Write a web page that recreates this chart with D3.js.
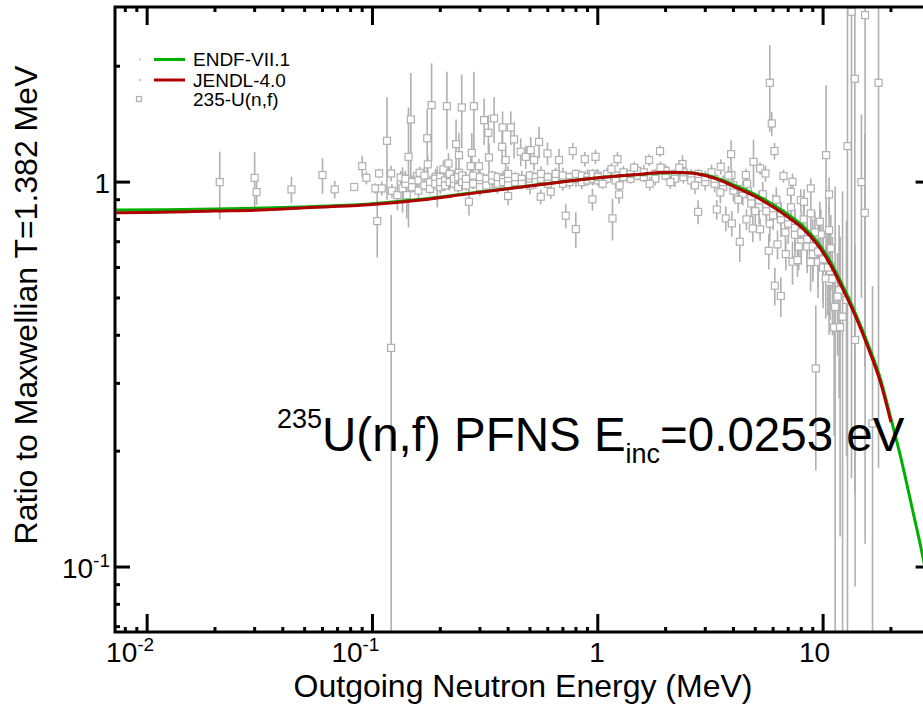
<!DOCTYPE html>
<html><head><meta charset="utf-8">
<script src="https://cdn.jsdelivr.net/npm/d3@7"></script>
<style>
body{margin:0;background:#fff;overflow:hidden}
text{font-family:"Liberation Sans",Arial,Helvetica,sans-serif;fill:#000}
</style>
</head><body>
<svg id="chart" width="923" height="709"></svg>
<script>
// ---------------- data ----------------
const xMajorTicks = [0.01, 0.1, 1, 10];
const xTickLabels = [["10","-2"],["10","-1"],["1",""],["10",""]];
const yMajorTicks = [0.1, 1];
const yTickLabels = [["10","-1"],["1",""]];

// ENDF/B-VII.1 ratio to Maxwellian (green)
const endfE = [0.0073,0.012,0.02,0.032,0.048,0.1,0.164,0.265,0.52,1.03,1.6,2.04,2.5,3.0,3.5,4.0,5.0,6.0,7.0,8.0,9.5,10.5,12.3,14.0,15.8,18.0,20.0,22.0,25.0,28.0,30.0];
const endfR = [0.846,0.847,0.851,0.856,0.862,0.879,0.902,0.934,0.981,1.028,1.048,1.058,1.057,1.043,1.016,0.984,0.928,0.873,0.823,0.776,0.695,0.638,0.534,0.452,0.38,0.307,0.243,0.195,0.14,0.103,0.082];

// JENDL-4.0 ratio to Maxwellian (red)
const jendlE = [0.0073,0.01,0.02,0.032,0.048,0.1,0.164,0.265,0.52,1.03,1.6,2.04,2.5,3.0,3.5,4.0,5.0,6.0,7.0,8.0,9.5,10.5,12.3,14.0,15.8,18.0,20.0];
const jendlR = [0.833,0.834,0.841,0.846,0.856,0.874,0.898,0.932,0.980,1.028,1.05,1.06,1.058,1.04,1.01,0.975,0.918,0.861,0.81,0.764,0.685,0.627,0.524,0.445,0.373,0.301,0.238];

// 235-U(n,f) experimental points: [E (MeV), ratio, abs. uncertainty]
const expScatter = [
 [0.021,1.00,0.20],[0.030,1.026,0.17],[0.0306,0.942,0.07],[0.0437,0.957,0.075],[0.060,1.043,0.11],
 [0.068,0.957,0.05],[0.083,0.971,0.02],[0.090,1.10,0.07],[0.094,1.026,0.04],[0.105,0.792,0.155],
 [0.116,1.28,0.38],[0.121,0.371,0.45],[0.103,0.963,0.03],[0.110,0.963,0.04],[0.107,1.053,0.03],
 [0.121,1.053,0.05],[0.122,0.949,0.04],[0.129,0.925,0.08],[0.1335,1.028,0.04],[0.136,0.963,0.13],
 [0.142,0.925,0.12],[0.1445,1.163,0.40],[0.148,1.455,0.465],[0.152,0.992,0.05],[0.158,1.037,0.03],
 [0.162,1.057,0.04],[0.175,1.30,0.25],[0.176,1.112,0.06],[0.183,1.585,0.45],[0.191,1.032,0.05],
 [0.194,0.98,0.12],[0.2065,1.079,0.06],[0.214,1.575,0.36],[0.2175,1.118,0.07],[0.223,1.008,0.04],
 [0.235,1.255,0.2],[0.242,1.175,0.17],[0.2415,1.057,0.03],[0.249,1.563,0.34],[0.264,1.012,0.03],
 [0.268,0.889,0.07],[0.273,1.10,0.06],[0.276,1.191,0.15],[0.282,1.575,0.36],[0.297,1.10,0.05],
 [0.313,1.449,0.2],[0.327,1.343,0.15],[0.329,1.159,0.1],[0.3465,1.464,0.2],[0.359,0.972,0.04],
 [0.378,1.387,0.14],[0.376,1.235,0.12],[0.39,1.141,0.1],[0.40,0.92,0.05],[0.411,1.387,0.14],
 [0.425,1.291,0.14],[0.455,1.199,0.1],[0.479,1.163,0.08],[0.504,1.211,0.1],[0.5215,1.141,0.07],
 [0.549,1.272,0.12],[0.5585,0.916,0.04],[0.598,1.187,0.08],[0.6185,0.944,0.04],[0.673,1.141,0.08],
 [0.721,0.818,0.06],[0.7745,1.204,0.06],[0.799,0.755,0.08],[0.876,1.147,0.05],[0.947,0.902,0.06],
 [0.977,1.163,0.05],[1.162,0.805,0.1],[1.223,1.147,0.05],[1.243,0.929,0.05],[1.689,1.141,0.04],
 [1.89,1.204,0.04],[2.376,1.114,0.06],[2.787,0.837,0.06],[3.375,0.849,0.05],[3.70,0.805,0.06],
 [3.934,0.781,0.06],[4.268,0.70,0.08],[4.57,0.80,0.05],[4.875,0.758,0.06],[5.253,0.754,0.05],
 [5.741,0.663,0.07],[6.276,0.689,0.06],[6.105,0.538,0.06],[6.49,0.506,0.06],[6.83,0.65,0.06],
 [7.314,0.621,0.08],[7.70,0.627,0.06],[5.80,1.811,0.46],[5.92,1.42,0.1],[6.085,1.204,0.06],
 [3.906,1.182,0.1],[4.91,1.129,0.16],[3.515,1.096,0.05],[5.253,1.085,0.04],[4.54,1.043,0.04],
 [3.92,1.043,0.04],[5.55,1.053,0.05],[6.673,1.037,0.04],[7.314,1.002,0.05],[8.82,0.963,0.06],
 [10.31,1.175,0.61],[12.83,1.24,1.7],[13.37,2.77,2.6],[13.83,1.855,1.7],[15.36,2.715,2.6],
 [17.62,1.811,1.63],[14.8,1.0,0.5],[15.31,0.832,0.5],[16.57,0.236,0.3],[9.28,0.328,0.15],
 [11.31,0.474,0.5],[12.2,0.447,0.5],[11.78,0.524,0.25],[11.19,0.419,0.2],[11.9,0.42,0.3],
 [13.87,0.389,0.3],[10.63,0.551,0.15],[10.74,0.588,0.15],[12.7,0.494,0.3],[8.82,0.829,0.08],
 [9.67,0.789,0.1],[9.77,0.731,0.12],[10.63,0.929,0.1],[10.82,0.673,0.15],[7.96,0.898,0.06],
 [8.23,0.889,0.07],[7.19,0.944,0.05],[10.28,0.562,0.12],[10.63,0.75,0.12],[11.59,0.504,0.15]
];
const expBand = [
 [0.14,0.99,0.03],[0.14,1.02,0.05],[0.15,1.00,0.04],[0.15,0.97,0.03],[0.16,1.01,0.05],[0.16,0.95,0.04],
 [0.17,0.98,0.03],[0.17,1.04,0.05],[0.18,1.00,0.04],[0.18,0.96,0.03],[0.19,1.02,0.05],[0.19,0.99,0.03],
 [0.20,0.97,0.04],[0.20,1.03,0.05],[0.20,1.00,0.03],[0.21,1.01,0.04],[0.21,0.98,0.03],[0.22,1.00,0.05],
 [0.22,1.05,0.04],[0.23,0.99,0.03],[0.23,1.02,0.05],[0.24,1.03,0.04],[0.24,0.97,0.03],[0.25,1.00,0.05],
 [0.25,1.04,0.04],[0.26,0.98,0.03],[0.26,1.02,0.04],[0.28,1.01,0.05],[0.28,0.99,0.03],[0.28,1.04,0.04],
 [0.30,1.00,0.03],[0.30,0.97,0.05],[0.30,1.03,0.04],[0.32,1.02,0.03],[0.32,0.98,0.04],[0.34,1.01,0.05],
 [0.34,1.04,0.03],[0.36,0.99,0.04],[0.36,1.03,0.03],[0.38,1.02,0.05],[0.38,1.00,0.03],[0.40,1.01,0.04],
 [0.40,1.05,0.05],[0.40,0.98,0.03],[0.43,1.00,0.04],[0.43,1.03,0.03],[0.46,1.02,0.05],[0.46,0.99,0.03],
 [0.50,1.01,0.04],[0.50,1.04,0.03],[0.50,0.98,0.05],[0.53,1.03,0.03],[0.53,1.00,0.04],[0.56,1.02,0.03],
 [0.56,1.05,0.05],[0.60,1.00,0.04],[0.60,1.03,0.03],[0.60,0.99,0.05],[0.65,1.02,0.03],[0.65,1.05,0.04],
 [0.70,1.01,0.03],[0.70,1.04,0.05],[0.70,0.99,0.04],[0.75,1.03,0.03],[0.75,1.00,0.04],[0.80,1.02,0.05],
 [0.80,1.05,0.03],[0.85,1.00,0.04],[0.85,1.04,0.03],[0.90,1.03,0.05],[0.90,1.01,0.03],[0.95,1.02,0.04],
 [0.95,1.05,0.03],[1.0,1.04,0.04],[1.0,1.01,0.03],[1.0,1.03,0.05],[1.1,1.02,0.03],[1.1,1.05,0.04],
 [1.2,1.04,0.03],[1.2,1.01,0.05],[1.3,1.03,0.03],[1.3,1.06,0.04],[1.4,1.02,0.03],[1.4,1.05,0.05],
 [1.5,1.04,0.03],[1.5,1.07,0.04],[1.6,1.03,0.03],[1.6,1.06,0.05],[1.8,1.05,0.03],[1.8,1.02,0.04],
 [2.0,1.04,0.03],[2.0,1.07,0.04],[2.2,1.05,0.03],[2.2,1.02,0.05],[2.4,1.03,0.04],[2.4,1.06,0.03],
 [2.6,1.04,0.04],[2.6,1.01,0.05],[2.8,1.02,0.04],[2.8,1.05,0.03],[3.0,1.00,0.05],[3.0,1.03,0.04],
 [3.3,0.99,0.05],[3.3,1.02,0.04],[3.6,0.97,0.05],[3.6,1.00,0.04],[4.0,0.95,0.06],[4.0,0.98,0.04],
 [4.4,0.93,0.06],[4.4,0.96,0.05],[4.8,0.91,0.06],[4.8,0.88,0.07],[5.2,0.89,0.06],[5.2,0.86,0.08],
 [5.6,0.87,0.07],[5.6,0.84,0.06],[6.0,0.85,0.08],[6.0,0.82,0.07],[6.5,0.80,0.08],[6.5,0.83,0.06],
 [7.0,0.78,0.09],[7.0,0.81,0.07],[7.5,0.76,0.09],[7.5,0.73,0.1],[8.0,0.74,0.1],[8.0,0.70,0.09],
 [8.5,0.71,0.11],[8.5,0.68,0.1],[9.0,0.68,0.12],[9.0,0.65,0.1],[9.5,0.66,0.13],[9.5,0.62,0.12],
 [10.0,0.63,0.14],[10.0,0.60,0.13],[10.5,0.60,0.15],[11.0,0.56,0.16],
 [1.05,0.99,0.03],[1.15,1.08,0.04],[1.25,0.98,0.04],[1.45,1.09,0.04],[1.7,0.99,0.04],[1.9,1.09,0.04],
 [2.1,1.00,0.04],[2.3,1.09,0.05],[2.7,0.98,0.05],[3.2,1.06,0.05],[3.5,0.94,0.06],[3.8,1.04,0.06],
 [4.2,0.90,0.07],[4.6,0.99,0.06],[5.0,0.84,0.07],[5.4,0.93,0.07],[5.8,0.78,0.08],[6.2,0.90,0.07],
 [6.8,0.74,0.08],[7.2,0.86,0.08],[7.8,0.68,0.09],[8.2,0.80,0.09],[8.8,0.62,0.1],[9.2,0.74,0.1]
];

const legendItems = ["ENDF-VII.1","JENDL-4.0","235-U(n,f)"];

// ---------------- drawing ----------------
const svg = d3.select("#chart");
const L = 115, T = 7, B = 632, R = 930.6;
const x = d3.scaleLog().domain([0.0072, 30]).range([L, R]);
const y = d3.scaleLog().domain([0.0678, 2.85]).range([B, T]);
const GREEN = "#00b000", RED = "#b00000", GRAY = "#b0b0b0";

svg.append("defs").append("clipPath").attr("id","plotclip")
  .append("rect").attr("x",L).attr("y",T).attr("width",R-L).attr("height",B-T);

const plot = svg.append("g").attr("clip-path","url(#plotclip)");
const allExp = expScatter.concat(expBand);
const yLow = v => y(Math.max(v, 0.01));

plot.append("g").selectAll("line").data(allExp).join("line")
  .attr("x1",d=>x(d[0])).attr("x2",d=>x(d[0]))
  .attr("y1",d=>y(d[1]+d[2])).attr("y2",d=>yLow(d[1]-d[2]))
  .attr("stroke",GRAY).attr("stroke-width",1.6);
plot.append("g").selectAll("rect").data(allExp).join("rect")
  .attr("x",d=>x(d[0])-3.5).attr("y",d=>y(d[1])-3.5).attr("width",7).attr("height",7)
  .attr("fill","#fff").attr("stroke",GRAY).attr("stroke-width",1.2);

const line = d3.line().x(d=>x(d[0])).y(d=>y(d[1])).curve(d3.curveMonotoneX);
plot.append("path").datum(d3.zip(endfE, endfR)).attr("d", line)
  .attr("fill","none").attr("stroke",GREEN).attr("stroke-width",3);
plot.append("path").datum(d3.zip(jendlE, jendlR)).attr("d", line)
  .attr("fill","none").attr("stroke",RED).attr("stroke-width",3);

// frame
svg.append("rect").attr("x",L).attr("y",T).attr("width",R-L).attr("height",B-T)
  .attr("fill","none").attr("stroke","#000").attr("stroke-width",3);

// ticks
const ax = svg.append("g").attr("stroke","#000").attr("stroke-width",3);
const xMinor = [], yMinor = [];
for (let d=-3; d<=1; d++) for (let m=2; m<=9; m++){ const v=m*Math.pow(10,d); if (v>0.0072 && v<30) xMinor.push(v); }
for (let d=-2; d<=0; d++) for (let m=2; m<=9; m++){ const v=m*Math.pow(10,d); if (v>0.0678 && v<2.85) yMinor.push(v); }
xMajorTicks.forEach(v=>{
  ax.append("line").attr("x1",x(v)).attr("x2",x(v)).attr("y1",B).attr("y2",B-18);
  ax.append("line").attr("x1",x(v)).attr("x2",x(v)).attr("y1",T).attr("y2",T+18);
});
xMinor.forEach(v=>{
  ax.append("line").attr("x1",x(v)).attr("x2",x(v)).attr("y1",B).attr("y2",B-5);
  ax.append("line").attr("x1",x(v)).attr("x2",x(v)).attr("y1",T).attr("y2",T+5);
});
yMajorTicks.forEach(v=>{
  ax.append("line").attr("y1",y(v)).attr("y2",y(v)).attr("x1",L).attr("x2",L+15);
  ax.append("line").attr("y1",y(v)).attr("y2",y(v)).attr("x1",R).attr("x2",R-15);
});
yMinor.forEach(v=>{
  ax.append("line").attr("y1",y(v)).attr("y2",y(v)).attr("x1",L).attr("x2",L+5);
  ax.append("line").attr("y1",y(v)).attr("y2",y(v)).attr("x1",R).attr("x2",R-5);
});

// tick labels
function powLabel(g, px, py, lab){
  const t = g.append("text").attr("x",px).attr("y",py).attr("text-anchor","end").style("font-size","28px");
  t.append("tspan").text(lab[0]);
  if (lab[1]) t.append("tspan").attr("dy",-11).style("font-size","19px").text(lab[1]);
}
xMajorTicks.forEach((v,i)=>powLabel(svg, x(v)+7, 662, xTickLabels[i]));
yMajorTicks.forEach((v,i)=>powLabel(svg, 110, y(v)+11, yTickLabels[i]));

// axis titles
svg.append("text").attr("x",523).attr("y",697).attr("text-anchor","middle")
  .style("font-size","32px").text("Outgoing Neutron Energy (MeV)");
svg.append("text").attr("transform","translate(37,305) rotate(-90)").attr("text-anchor","middle")
  .style("font-size","32px").text("Ratio to Maxwellian T=1.382 MeV");

// legend
const lg = svg.append("g");
const legY = [59.5, 80, 99];
lg.append("circle").attr("cx",140).attr("cy",legY[0]).attr("r",1).attr("fill","#9fdf9f");
lg.append("line").attr("x1",154).attr("x2",185).attr("y1",legY[0]).attr("y2",legY[0]).attr("stroke",GREEN).attr("stroke-width",3);
lg.append("circle").attr("cx",140).attr("cy",legY[1]).attr("r",1).attr("fill","#e0a0a0");
lg.append("line").attr("x1",154).attr("x2",185).attr("y1",legY[1]).attr("y2",legY[1]).attr("stroke",RED).attr("stroke-width",3);
lg.append("rect").attr("x",136.5).attr("y",legY[2]-2.5).attr("width",5).attr("height",5)
  .attr("fill","#fff").attr("stroke",GRAY).attr("stroke-width",1.2);
legendItems.forEach((s,i)=>lg.append("text").attr("x",193).attr("y",legY[i]+6.5).style("font-size","19px").text(s));

// annotation
const ann = svg.append("text").attr("x",277).attr("y",451).style("font-size","47.5px");
ann.append("tspan").attr("dy",-23).style("font-size","27px").text("235");
ann.append("tspan").attr("dy",23).text("U(n,f) PFNS E");
ann.append("tspan").attr("dy",12).style("font-size","27px").text("inc");
ann.append("tspan").attr("dy",-12).text("=0.0253 eV");
</script>
</body></html>
